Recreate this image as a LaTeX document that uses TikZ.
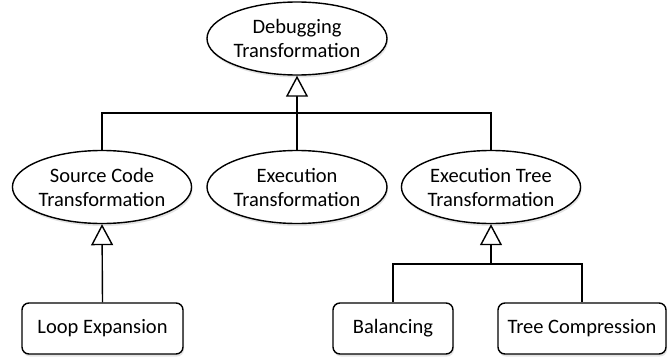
\documentclass[tikz,border=0pt]{standalone}
\usepackage{fontspec}
\setmainfont{Carlito}
\usetikzlibrary{shapes.geometric,arrows.meta,shadows}
\begin{document}
\begin{tikzpicture}[x=1pt,y=-1pt,
  shad/.style={drop shadow={opacity=0.22,shadow xshift=1pt,shadow yshift=-2.5pt}},
  ell/.style={ellipse,draw,line width=1.4pt,fill=white,shad,minimum width=180pt,minimum height=73pt,inner sep=0pt,align=center,font=\fontsize{20.5}{24}\selectfont},
  rbox/.style={rectangle,rounded corners=7pt,draw,line width=1.4pt,fill=white,shad,minimum height=51pt,inner sep=0pt,font=\fontsize{20.5}{24}\selectfont},
  conn/.style={line width=1.4pt},
  gen/.style={-{Triangle[open,width=22pt,length=21pt,fill=white,line width=1.4pt]}}
]
\useasboundingbox (0,0) rectangle (668,361);
\node[ell] (dbg) at (297,38.5) {Debugging\\Transformation};
\node[ell,minimum width=179pt] (src) at (102,187) {Source Code\\Transformation};
\node[ell,minimum width=180pt] (exe) at (297,187) {Execution\\Transformation};
\node[ell,minimum width=178pt] (ett) at (491,187) {Execution Tree\\Transformation};
\node[rbox,minimum width=161pt] (loop) at (102.5,328.5) {Loop Expansion};
\node[rbox,minimum width=120pt] (bal) at (393,328.5) {Balancing};
\node[rbox,minimum width=168pt] (tc) at (582,328.5) {Tree Compression};
\coordinate (bar) at (297,113);
\coordinate (bar2) at (491,264);
% top hierarchy
\draw[conn] (src.north) |- (bar) -| (ett.north);
\draw[gen,line width=2.2pt] (exe.north) -- (dbg.south);
% source code
\draw[conn,gen] (loop.north) -- (src.south);
% execution tree
\draw[conn] (bal.north) |- (bar2) -| (tc.north);
\draw[conn,gen] (bar2) -- (ett.south);
\end{tikzpicture}
\end{document}
